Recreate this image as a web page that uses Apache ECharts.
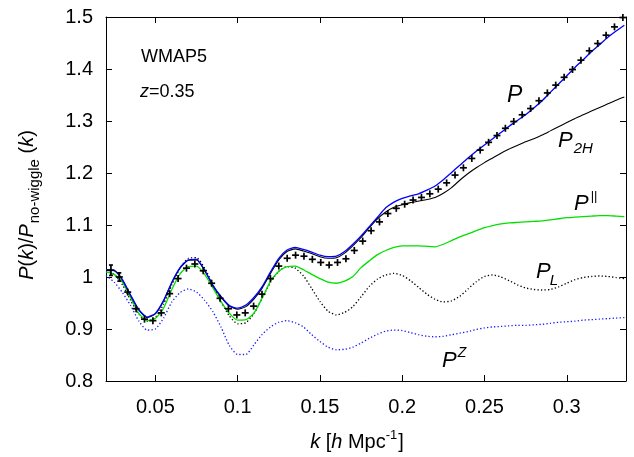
<!DOCTYPE html>
<html><head><meta charset="utf-8">
<script src="https://cdn.jsdelivr.net/npm/echarts@6/dist/echarts.min.js"></script>
<style>html,body{margin:0;padding:0;background:#fff}#c{width:634px;height:457px}</style>
</head><body><div id="c"></div>
<script>
// ---- data ----
const kGrid = [0.020,0.025,0.030,0.035,0.040,0.045,0.050,0.055,0.060,0.065,
  0.070,0.075,0.080,0.085,0.090,0.095,0.100,0.105,0.110,0.115,
  0.120,0.125,0.130,0.135,0.140,0.145,0.150,0.155,0.160,0.165,
  0.170,0.175,0.180,0.185,0.190,0.195,0.200,0.205,0.210,0.215,
  0.220,0.225,0.230,0.235,0.240,0.245,0.250,0.255,0.260,0.265,
  0.270,0.275,0.280,0.285,0.290,0.295,0.300,0.305,0.310,0.315,
  0.320,0.325,0.330,0.335];
const pNonlinear = [1.014,1.013,0.995,0.965,0.937,0.923,0.930,0.955,0.990,1.018,
  1.033,1.034,1.013,0.984,0.962,0.945,0.940,0.946,0.961,0.982,
  1.010,1.036,1.052,1.057,1.053,1.048,1.042,1.039,1.040,1.049,
  1.063,1.079,1.097,1.115,1.133,1.144,1.151,1.156,1.160,1.167,
  1.175,1.187,1.201,1.215,1.229,1.242,1.254,1.266,1.278,1.290,
  1.301,1.312,1.325,1.339,1.355,1.371,1.387,1.403,1.418,1.433,
  1.447,1.461,1.473,1.484];
const p2H = [1.013,1.012,0.994,0.964,0.936,0.922,0.929,0.954,0.989,1.017,
  1.032,1.033,1.012,0.983,0.961,0.944,0.938,0.943,0.958,0.979,
  1.007,1.033,1.049,1.054,1.050,1.045,1.039,1.036,1.037,1.046,
  1.060,1.076,1.095,1.112,1.125,1.134,1.139,1.143,1.146,1.149,
  1.153,1.161,1.172,1.186,1.199,1.210,1.220,1.229,1.238,1.246,
  1.253,1.260,1.266,1.273,1.281,1.289,1.297,1.305,1.312,1.319,
  1.326,1.333,1.340,1.346];
const pParallel = [1.010,1.005,0.990,0.960,0.930,0.916,0.920,0.940,0.976,1.006,
  1.020,1.021,1.005,0.979,0.952,0.930,0.917,0.918,0.931,0.960,
  0.992,1.011,1.020,1.021,1.014,1.005,0.997,0.990,0.988,0.992,
  1.001,1.018,1.031,1.043,1.051,1.057,1.060,1.060,1.060,1.059,
  1.058,1.063,1.070,1.077,1.083,1.089,1.095,1.099,1.102,1.104,
  1.105,1.106,1.107,1.108,1.110,1.112,1.114,1.115,1.116,1.117,
  1.118,1.118,1.117,1.116];
const pLinear = [1.012,1.005,0.985,0.955,0.928,0.915,0.922,0.948,0.985,1.017,
  1.036,1.037,1.017,0.985,0.952,0.925,0.910,0.912,0.930,0.960,
  0.990,1.011,1.020,1.017,1.002,0.978,0.953,0.934,0.927,0.932,
  0.943,0.962,0.982,0.996,1.004,1.007,1.003,0.993,0.980,0.967,
  0.957,0.952,0.954,0.963,0.977,0.991,1.001,1.004,1.000,0.993,
  0.985,0.979,0.976,0.975,0.976,0.981,0.988,0.995,0.999,1.001,
  1.002,1.001,0.999,0.997];
const pZ = [1.003,0.990,0.970,0.945,0.915,0.898,0.900,0.921,0.952,0.970,
  0.977,0.971,0.955,0.933,0.903,0.868,0.851,0.851,0.870,0.890,
  0.904,0.913,0.916,0.912,0.904,0.889,0.876,0.865,0.860,0.861,
  0.865,0.873,0.882,0.890,0.896,0.898,0.897,0.893,0.889,0.886,
  0.885,0.886,0.889,0.892,0.895,0.899,0.902,0.904,0.905,0.906,
  0.907,0.907,0.908,0.909,0.911,0.913,0.914,0.915,0.917,0.918,
  0.919,0.920,0.921,0.922];
const kData = [0.0230,0.0281,0.0332,0.0383,0.0434,0.0485,0.0536,0.0587,0.0638,0.0689,
  0.0740,0.0791,0.0842,0.0893,0.0944,0.0995,0.1046,0.1097,0.1148,0.1199,
  0.1250,0.1301,0.1352,0.1403,0.1454,0.1505,0.1556,0.1607,0.1658,0.1709,
  0.1760,0.1811,0.1862,0.1913,0.1964,0.2015,0.2066,0.2117,0.2168,0.2219,
  0.2270,0.2321,0.2372,0.2423,0.2474,0.2525,0.2576,0.2627,0.2678,0.2729,
  0.2780,0.2831,0.2882,0.2933,0.2984,0.3035,0.3086,0.3137,0.3188,0.3239,
  0.3290,0.3341];
const pData = [1.013,1.000,0.971,0.939,0.919,0.916,0.931,0.968,0.997,1.017,
  1.025,1.012,0.988,0.959,0.939,0.927,0.931,0.944,0.967,0.997,
  1.021,1.036,1.042,1.040,1.034,1.028,1.023,1.028,1.035,1.051,
  1.069,1.089,1.106,1.122,1.132,1.140,1.148,1.153,1.160,1.169,
  1.181,1.196,1.210,1.228,1.244,1.259,1.272,1.286,1.299,1.312,
  1.324,1.339,1.354,1.369,1.384,1.399,1.417,1.435,1.449,1.465,
  1.481,1.499];
const pErr = [0.010,0.008,0.006,0.005,0.005,0.005,0.005,0.005,0.005,0.005,
  0.005,0.005,0.005,0.005,0.005,0.005,0.005,0.005,0.005,0.005,
  0.004,0.004,0.004,0.004,0.004,0.004,0.004,0.004,0.004,0.004,
  0.004,0.004,0.003,0.003,0.003,0.003,0.003,0.003,0.003,0.003,
  0.003,0.003,0.003,0.003,0.003,0.003,0.003,0.003,0.003,0.003,
  0.003,0.003,0.003,0.003,0.003,0.003,0.003,0.003,0.003,0.003,
  0.003,0.003];
const xTicks = [0.05,0.1,0.15,0.2,0.25,0.3];
const xRange = [0.02, 0.336];
const yRange = [0.8, 1.5];

// ---- helpers ----
const FONT = '"Liberation Sans", Arial, Helvetica, sans-serif';
const mctx = document.createElement('canvas').getContext('2d');
function tw(t, s, it){ mctx.font = (it ? 'italic ' : '') + s + 'px ' + FONT; return mctx.measureText(t).width; }
// pieces: {t, s, it, b (baseline offset, +down)}; y0 = baseline of main text
function chain(pieces, x0, y0, align){
  let W = 0; pieces.forEach(p => { p.w = tw(p.t, p.s, p.it); W += p.w + (p.gap || 0); });
  let x = align === 'center' ? x0 - W / 2 : x0;
  const out = [];
  pieces.forEach(p => {
    x += (p.gap || 0);
    out.push({ type: 'text', x: x, y: y0 + (p.b || 0) - 0.8 * p.s, silent: true,
      style: { text: p.t, fill: '#000', fontSize: p.s, fontFamily: FONT,
        fontStyle: p.it ? 'italic' : 'normal', align: 'left', verticalAlign: 'top' } });
    x += p.w;
  });
  return out;
}
function pairs(ys){ return kGrid.map((k, i) => [k, ys[i]]); }

const chart = echarts.init(document.getElementById('c'), null, { renderer: 'canvas' });
const axLine = { show: true, onZero: false, lineStyle: { color: '#000', width: 1 } };
const tickStyle = { color: '#000', width: 1 };

function lineSeries(name, ys, color, dash, width){
  return { name, type: 'line', data: pairs(ys), symbol: 'none', smooth: 0.2,
    lineStyle: { color, width: width || 1, type: dash || 'solid' }, silent: true, z: 2 };
}

const texts = [].concat(
  chain([{ t: 'WMAP5', s: 18 }], 141, 62),
  chain([{ t: 'z', s: 18, it: true }, { t: '=0.35', s: 18 }], 140, 97),
  chain([{ t: 'P', s: 23, it: true }], 507, 103),
  chain([{ t: 'P', s: 22, it: true }, { t: '2H', s: 15, it: true, b: 6, gap: 1 }], 558, 147),
  chain([{ t: 'P', s: 22, it: true }, { t: '||', s: 13, b: -10, gap: 2 }], 574, 210),
  chain([{ t: 'P', s: 22, it: true }, { t: 'L', s: 15, it: true, b: 7, gap: -1 }], 536, 278),
  chain([{ t: 'P', s: 22, it: true }, { t: 'Z', s: 14, it: true, b: -10, gap: 1 }], 442, 367),
  chain([{ t: 'k', s: 20, it: true }, { t: ' [', s: 20 }, { t: 'h', s: 20, it: true },
         { t: ' Mpc', s: 20 }, { t: '-1', s: 13, b: -9 }, { t: ']', s: 20, gap: 1 }], 357, 448, 'center')
);
const yTitle = { type: 'group', x: 33, y: 205, rotation: Math.PI / 2, silent: true,
  children: chain([{ t: 'P', s: 20, it: true }, { t: '(', s: 20 }, { t: 'k', s: 20, it: true }, { t: ')/', s: 20 },
    { t: 'P', s: 20, it: true }, { t: 'no-wiggle', s: 15, b: 6, gap: 1 }, { t: ' (', s: 20 }, { t: 'k', s: 20, it: true }, { t: ')', s: 20 }], 0, 0, 'center') };

const option = {
  animation: false,
  backgroundColor: '#fff',
  grid: { left: 106, right: 8, top: 17, bottom: 76, containLabel: false },
  xAxis: [
    { type: 'value', min: xRange[0], max: xRange[1], position: 'bottom', axisLine: axLine,
      axisTick: { show: true, inside: true, length: 6, customValues: xTicks, lineStyle: tickStyle },
      axisLabel: { show: true, customValues: xTicks, color: '#000', fontSize: 20, fontFamily: FONT, margin: 16,
        formatter: v => String(Math.round(v * 100) / 100) },
      splitLine: { show: false } },
    { type: 'value', min: xRange[0], max: xRange[1], position: 'top', axisLine: axLine,
      axisTick: { show: true, inside: true, length: 6, customValues: xTicks, lineStyle: tickStyle },
      axisLabel: { show: false }, splitLine: { show: false } }
  ],
  yAxis: [
    { type: 'value', min: yRange[0], max: yRange[1], interval: 0.1, position: 'left', axisLine: axLine,
      axisTick: { show: true, inside: true, length: 6, lineStyle: tickStyle },
      axisLabel: { color: '#000', fontSize: 20, fontFamily: FONT, margin: 13,
        formatter: v => String(Math.round(v * 10) / 10) },
      splitLine: { show: false } },
    { type: 'value', min: yRange[0], max: yRange[1], interval: 0.1, position: 'right', axisLine: axLine,
      axisTick: { show: true, inside: true, length: 6, lineStyle: tickStyle },
      axisLabel: { show: false }, splitLine: { show: false } }
  ],
  series: [
    lineSeries('P^Z', pZ, '#1a1aff', [1.3, 2.2], 1.3),
    lineSeries('P_L', pLinear, '#000', [1.3, 2.2], 1.3),
    lineSeries('P^||', pParallel, '#00e000', 'solid', 1.3),
    lineSeries('P_2H', p2H, '#000', 'solid', 1.1),
    lineSeries('P', pNonlinear, '#0000ff', 'solid', 1.3),
    { name: 'data', type: 'custom', z: 5, silent: true,
      data: kData.map((k, i) => [k, pData[i], pErr[i]]),
      renderItem: function (params, api) {
        const k = api.value(0), v = api.value(1), e = api.value(2);
        const c = api.coord([k, v]), hi = api.coord([k, v + e]), lo = api.coord([k, v - e]);
        const h = 3.5;
        const st = { stroke: '#000', lineWidth: 1.7 };
        const ch = [
          { type: 'line', shape: { x1: c[0] - h, y1: c[1], x2: c[0] + h, y2: c[1] }, style: st },
          { type: 'line', shape: { x1: c[0], y1: Math.min(hi[1], c[1] - h), x2: c[0], y2: Math.max(lo[1], c[1] + h) }, style: st }
        ];
        if (c[1] - hi[1] > h) {
          ch.push({ type: 'line', shape: { x1: c[0] - 2, y1: hi[1], x2: c[0] + 2, y2: hi[1] }, style: st });
          ch.push({ type: 'line', shape: { x1: c[0] - 2, y1: lo[1], x2: c[0] + 2, y2: lo[1] }, style: st });
        }
        return { type: 'group', children: ch };
      } }
  ],
  graphic: texts.concat([yTitle])
};
chart.setOption(option);
</script>
</body></html>
